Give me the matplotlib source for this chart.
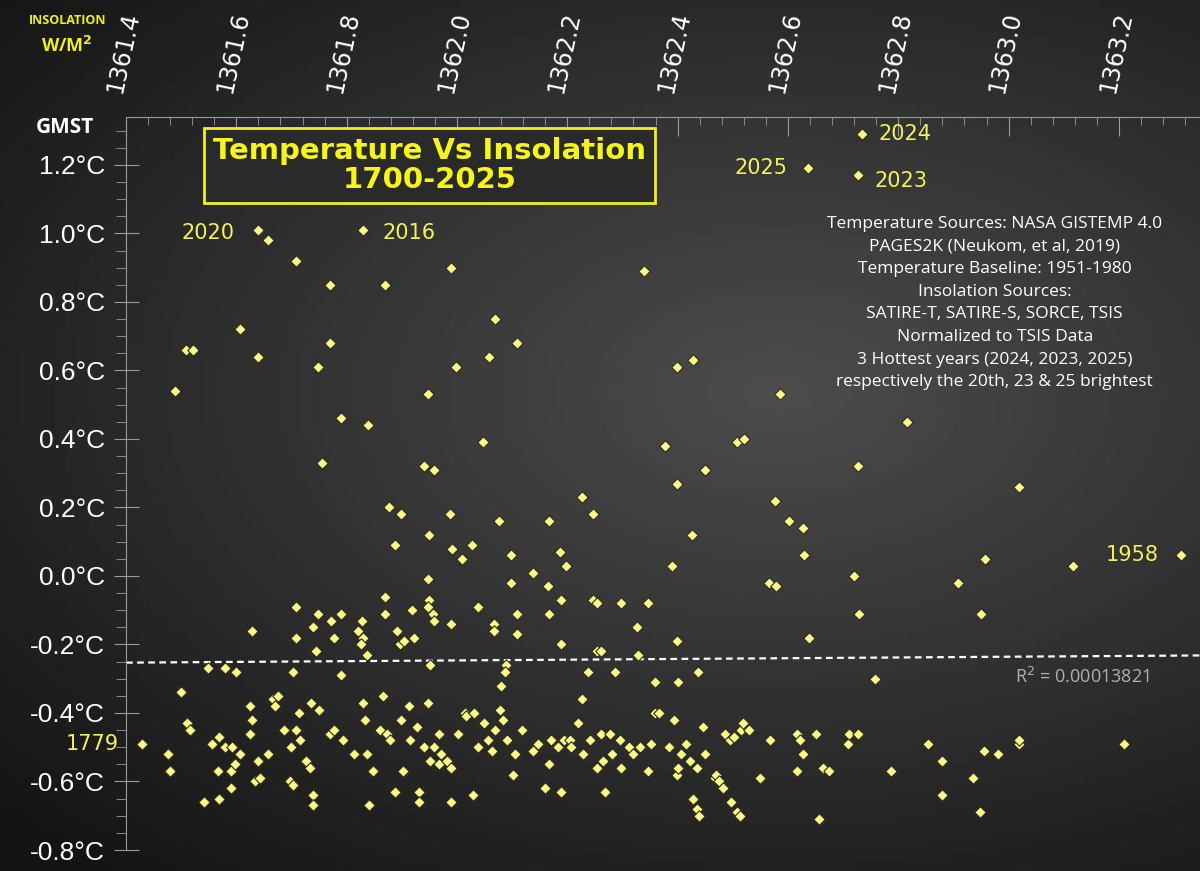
import numpy as np
import matplotlib.pyplot as plt
from matplotlib.ticker import MultipleLocator

# insolation (W/m^2) and temperature anomaly (degC)
insolation = [
    1362.734, 1362.637, 1362.727, 1361.640, 1361.830, 1363.312, 1361.429,
    1361.489, 1361.509, 1361.522, 1361.606, 1361.640, 1361.658, 1361.708, 1361.770,
    1361.748, 1361.770, 1361.756, 1361.790, 1361.838, 1361.870, 1361.989, 1361.998,
    1361.947, 1361.940, 1361.959, 1362.048, 1362.058, 1362.069, 1362.109, 1362.339,
    1362.399, 1362.428, 1362.377, 1362.398, 1362.450, 1362.426, 1362.508, 1362.520,
    1362.586, 1362.816, 1362.727, 1363.018, 1361.877, 1361.899, 1361.887, 1361.988,
    1361.991, 1362.009, 1362.028, 1361.949, 1362.077, 1362.098, 1362.098, 1362.138,
    1362.167, 1362.227, 1362.247, 1362.187, 1362.197, 1362.189, 1362.247, 1362.254,
    1362.298, 1362.389, 1362.577, 1362.602, 1362.628, 1362.629, 1362.566, 1362.579,
    1362.720, 1362.729, 1362.958, 1362.909, 1362.950, 1363.117, 1361.947, 1361.949,
    1361.947, 1361.957, 1361.959, 1361.870, 1361.870, 1361.919, 1361.989, 1362.038,
    1362.067, 1362.067, 1362.109, 1362.109, 1362.165, 1362.167, 1362.189, 1362.254,
    1362.262, 1362.326, 1362.347, 1362.398, 1362.328, 1362.638, 1362.758, 1361.628,
    1361.708, 1361.708, 1361.739, 1361.748, 1361.744, 1361.771, 1361.777, 1361.790,
    1361.820, 1361.828, 1361.830, 1361.826, 1361.892, 1361.897, 1361.904, 1361.922,
    1361.790, 1361.837, 1361.549, 1361.579, 1361.600, 1361.499, 1361.702, 1361.951,
    1362.089, 1362.087, 1362.080, 1362.238, 1362.287, 1362.359, 1362.401, 1362.437,
    1361.510, 1361.516, 1361.476, 1361.480, 1361.541, 1361.569, 1361.567, 1361.556,
    1361.569, 1361.579, 1361.591, 1361.591, 1361.598, 1361.592, 1361.606, 1361.625,
    1361.625, 1361.628, 1361.634, 1361.640, 1361.643, 1361.658, 1361.667, 1361.670,
    1361.675, 1361.687, 1361.697, 1361.702, 1361.708, 1361.699, 1361.714, 1361.715,
    1361.726, 1361.734, 1361.736, 1361.739, 1361.739, 1361.749, 1361.770, 1361.777,
    1361.793, 1361.813, 1361.830, 1361.833, 1361.837, 1361.840, 1361.848, 1361.860,
    1361.865, 1361.873, 1361.879, 1361.887, 1361.899, 1361.902, 1361.913, 1361.915,
    1361.927, 1361.932, 1361.932, 1361.940, 1361.947, 1361.951, 1361.959, 1361.968,
    1361.968, 1361.971, 1361.982, 1361.989, 1361.989, 1362.002, 1362.015, 1362.016,
    1362.029, 1362.031, 1362.038, 1362.049, 1362.056, 1362.063, 1362.069, 1362.078,
    1362.084, 1362.090, 1362.102, 1362.105, 1362.118, 1362.138, 1362.147, 1362.159,
    1362.167, 1362.171, 1362.184, 1362.189, 1362.194, 1362.204, 1362.207, 1362.219,
    1362.227, 1362.229, 1362.241, 1362.254, 1362.261, 1362.264, 1362.268, 1362.278,
    1362.281, 1362.295, 1362.298, 1362.311, 1362.320, 1362.331, 1362.347, 1362.352,
    1362.359, 1362.367, 1362.384, 1362.394, 1362.398, 1362.401, 1362.407, 1362.416,
    1362.423, 1362.428, 1362.436, 1362.439, 1362.436, 1362.446, 1362.450, 1362.468,
    1362.470, 1362.475, 1362.483, 1362.486, 1362.495, 1362.497, 1362.502, 1362.508,
    1362.513, 1362.515, 1362.518, 1362.530, 1362.550, 1362.568, 1362.616, 1362.622,
    1362.616, 1362.628, 1362.650, 1362.656, 1362.664, 1362.675, 1362.708, 1362.711,
    1362.727, 1362.787, 1362.853, 1362.879, 1362.879, 1362.936, 1362.948, 1362.955,
    1362.980, 1363.018, 1363.018, 1363.210,
]
gmst = [
    1.29, 1.19, 1.17, 1.01, 1.01, 0.06, -0.49,
    0.54, 0.66, 0.66, 0.72, 0.64, 0.98, 0.92, 0.85,
    0.61, 0.68, 0.33, 0.46, 0.44, 0.85, 0.90, 0.61,
    0.53, 0.32, 0.31, 0.39, 0.64, 0.75, 0.68, 0.89,
    0.61, 0.63, 0.38, 0.27, 0.31, 0.12, 0.39, 0.40,
    0.53, 0.45, 0.32, 0.26, 0.20, 0.18, 0.09, 0.18,
    0.08, 0.05, 0.09, 0.12, 0.16, 0.06, -0.02, 0.01,
    0.16, 0.23, 0.18, 0.07, 0.03, -0.07, -0.07, -0.08,
    -0.08, 0.03, 0.22, 0.16, 0.14, 0.06, -0.02, -0.03,
    0.00, -0.11, 0.05, -0.02, -0.11, 0.03, -0.01, -0.07,
    -0.09, -0.11, -0.13, -0.06, -0.11, -0.10, -0.14, -0.09,
    -0.14, -0.16, -0.11, -0.17, -0.03, -0.11, -0.20, -0.22,
    -0.22, -0.15, -0.08, -0.19, -0.23, -0.18, -0.30, -0.16,
    -0.09, -0.18, -0.15, -0.11, -0.22, -0.13, -0.18, -0.11,
    -0.16, -0.13, -0.18, -0.20, -0.16, -0.20, -0.19, -0.18,
    -0.29, -0.23, -0.27, -0.27, -0.28, -0.34, -0.28, -0.26,
    -0.26, -0.28, -0.32, -0.28, -0.28, -0.31, -0.31, -0.28,
    -0.43, -0.45, -0.52, -0.57, -0.66, -0.65, -0.57, -0.49,
    -0.47, -0.50, -0.57, -0.62, -0.55, -0.50, -0.52, -0.38,
    -0.46, -0.42, -0.60, -0.54, -0.59, -0.52, -0.36, -0.38,
    -0.35, -0.45, -0.60, -0.61, -0.45, -0.50, -0.40, -0.48,
    -0.54, -0.56, -0.37, -0.64, -0.67, -0.39, -0.46, -0.45,
    -0.48, -0.52, -0.37, -0.42, -0.52, -0.67, -0.57, -0.45,
    -0.35, -0.46, -0.48, -0.63, -0.42, -0.57, -0.38, -0.48,
    -0.44, -0.63, -0.66, -0.50, -0.37, -0.54, -0.50, -0.46,
    -0.55, -0.52, -0.54, -0.56, -0.66, -0.46, -0.40, -0.41,
    -0.64, -0.40, -0.50, -0.43, -0.48, -0.51, -0.45, -0.39,
    -0.42, -0.48, -0.58, -0.52, -0.45, -0.51, -0.49, -0.62,
    -0.55, -0.48, -0.50, -0.63, -0.48, -0.48, -0.50, -0.43,
    -0.36, -0.52, -0.48, -0.56, -0.46, -0.54, -0.63, -0.46,
    -0.52, -0.48, -0.56, -0.50, -0.52, -0.50, -0.57, -0.49,
    -0.40, -0.40, -0.50, -0.42, -0.58, -0.56, -0.52, -0.49,
    -0.54, -0.65, -0.68, -0.70, -0.56, -0.44, -0.52, -0.59,
    -0.58, -0.60, -0.62, -0.46, -0.48, -0.66, -0.47, -0.69,
    -0.70, -0.45, -0.43, -0.45, -0.59, -0.48, -0.46, -0.48,
    -0.57, -0.52, -0.46, -0.71, -0.56, -0.57, -0.49, -0.46,
    -0.46, -0.57, -0.49, -0.54, -0.64, -0.59, -0.69, -0.51,
    -0.52, -0.49, -0.48, -0.49,
]

year_labels = ["2024", "2025", "2023", "2020", "2016", "1958", "1779"]
year_offsets = [(12, 0), (-53, 0), (12, -4), (-55, -2), (14, -2), (-54, 0), (-55, 0)]

trend_x = [1361.40, 1363.347]
trend_y = [-0.253, -0.232]
r2_text = "R$^2$ = 0.00013821"

notes = ("Temperature Sources: NASA GISTEMP 4.0\n"
         "PAGES2K (Neukom, et al, 2019)\n"
         "Temperature Baseline: 1951-1980\n"
         "Insolation Sources:\n"
         "SATIRE-T, SATIRE-S, SORCE, TSIS\n"
         "Normalized to TSIS Data\n"
         "3 Hottest years (2024, 2023, 2025)\n"
         "respectively the 20th, 23 & 25 brightest")

fig = plt.figure(figsize=(12, 8.71), dpi=100)

# dark radial background
bg = fig.add_axes([0, 0, 1, 1])
yy, xx = np.mgrid[0:1:200j, 0:1:200j]
r = np.sqrt(((xx - 0.65) / 1.1) ** 2 + ((yy - 0.45) / 0.9) ** 2)
bg.imshow(0.30 - 0.22 * np.clip(r / 0.8, 0, 1), cmap='gray', vmin=0, vmax=1,
          aspect='auto', extent=[0, 1, 0, 1])
bg.axis('off')

ax = fig.add_axes([126 / 1200, 21 / 871, 1074 / 1200, 733 / 871])
ax.patch.set_alpha(0)
ax.set_xlim(1361.40, 1363.347)
ax.set_ylim(-0.80, 1.34)

ax.plot(trend_x, trend_y, color='white', ls=(0, (3, 2)), lw=1.6)
ax.scatter(insolation, gmst, marker='D', s=34, facecolor='#fbfb8c',
           edgecolor='#2a2a18', linewidth=0.8, zorder=3)

for i, lab in enumerate(year_labels):
    ax.annotate(lab, (insolation[i], gmst[i]), xytext=year_offsets[i],
                textcoords='offset points', color='#f2f25a', fontsize=15,
                va='center')

# axes styling
for s in ['right', 'bottom']:
    ax.spines[s].set_visible(False)
for s in ['left', 'top']:
    ax.spines[s].set_color('#9a9a9a')
ax.xaxis.tick_top()
ax.xaxis.set_minor_locator(MultipleLocator(0.04))
ax.yaxis.set_minor_locator(MultipleLocator(0.05))
ax.tick_params(axis='x', which='major', direction='in', length=14, color='#9a9a9a',
               labelcolor='white', labelsize=17, labelrotation=78, pad=16)
ax.tick_params(axis='x', which='minor', direction='in', length=6, color='#9a9a9a')
ax.tick_params(axis='y', which='major', direction='inout', length=18, color='#9a9a9a',
               labelcolor='white', labelsize=19, pad=6)
ax.tick_params(axis='y', which='minor', direction='out', length=7, color='#9a9a9a')
xt = np.round(np.arange(1361.4, 1363.3, 0.2), 1)
ax.set_xticks(xt)
ax.set_xticklabels([f"{v:.1f}" for v in xt], ha='left', va='bottom',
                   rotation_mode='anchor')
yt = np.round(np.arange(-0.8, 1.21, 0.2), 1) + 0.0
ax.set_yticks(yt)
ax.set_yticklabels([f"{abs(v):.1f}°C" if abs(v) < 1e-9 else f"{v:.1f}°C" for v in yt],
                   family='Liberation Sans')

fig.text(0.054, 0.847, "GMST", color='white', fontsize=15, fontweight='bold',
         ha='center', family='Open Sans')
fig.text(0.056, 0.972, "INSOLATION", color='#f0f020', fontsize=9, fontweight='bold',
         ha='center', family='Open Sans')
fig.text(0.056, 0.94, "W/M$^\\mathbf{2}$", color='#f0f020', fontsize=13, fontweight='bold',
         ha='center', family='Open Sans')

fig.text(0.358, 0.81, "Temperature Vs Insolation\n1700-2025", color='#f5f51a',
         fontsize=21, fontweight='bold', ha='center', va='center',
         family='DejaVu Sans', linespacing=1.05,
         bbox=dict(boxstyle='square,pad=0.3', fc='#2a2a2a', ec='#f0f020', lw=2))

fig.text(0.829, 0.652, notes, color='white', fontsize=12.5, ha='center', va='center',
         linespacing=1.55, family='Open Sans')
fig.text(0.902, 0.223, r2_text, color='#b0b0b0', fontsize=13, ha='center',
         va='center', family='Open Sans')

fig.savefig('out.png', dpi=100)
